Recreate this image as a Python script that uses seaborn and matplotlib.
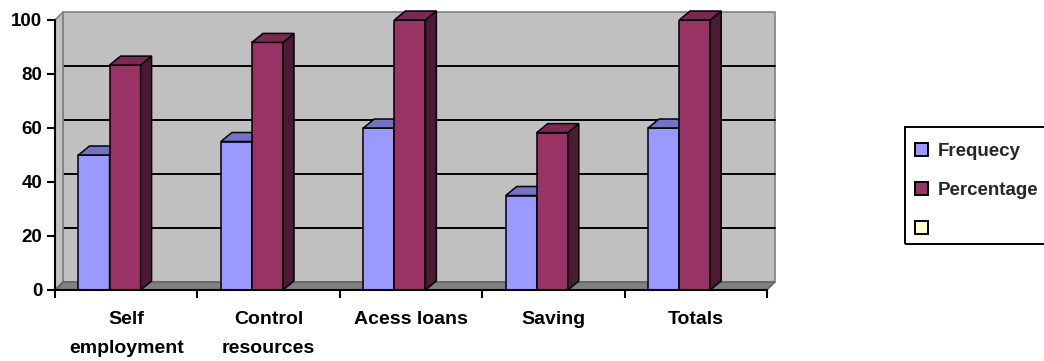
import numpy as np
import pandas as pd
import matplotlib
matplotlib.use("Agg")
import matplotlib.pyplot as plt
from matplotlib.patches import Polygon, Rectangle, Patch
from matplotlib.transforms import ScaledTranslation
import seaborn as sns

# ---- data -------------------------------------------------------------
categories = ["Self\nemployment", "Control\nresources", "Acess loans", "Saving", "Totals"]
frequency = [50, 55, 60, 35, 60]
percentage = [83.3, 91.7, 100, 58.3, 100]
series_names = ["Frequecy", "Percentage"]
y_ticks = [0, 20, 40, 60, 80, 100]

# ---- styling ----------------------------------------------------------
FRONT = {"Frequecy": "#9999FF", "Percentage": "#993366"}
TOP = {"Frequecy": "#7373C6", "Percentage": "#7A2952"}
SIDE = {"Frequecy": "#5C5CA3", "Percentage": "#4D1A35"}
BLANK = "#FFFFCC"

sns.set_theme(style="white")
plt.rcParams["font.family"] = ["Liberation Sans", "DejaVu Sans"]
plt.rcParams["font.weight"] = "bold"

DPI = 100
W, H = 1044, 361
fig = plt.figure(figsize=(W / DPI, H / DPI), dpi=DPI)
fig.patch.set_facecolor("white")
ax = fig.add_axes([55 / W, (H - 290) / H, (767 - 55) / W, (290 - 20) / H])
ax.set_facecolor("none")

df = pd.DataFrame({
    "category": categories * 2,
    "series": [series_names[0]] * len(categories) + [series_names[1]] * len(categories),
    "value": frequency + percentage,
})

sns.barplot(data=df, x="category", y="value", hue="series", order=categories,
            hue_order=series_names, palette=FRONT, width=0.436, saturation=1,
            edgecolor="black", linewidth=1.1, legend=False, ax=ax)

ax.set_xlim(-0.5, len(categories) - 0.5)
ax.set_ylim(0, 100)

# pixel depth of the walls and of the columns
WX, WY = 8, 8
BX, BY = 11, 9
wall_tr = ax.transData + ScaledTranslation(WX / DPI, WY / DPI, fig.dpi_scale_trans)
inv = ax.transData.inverted()


def disp(x, y):
    return np.array(ax.transData.transform((x, y)))


def add_face(pts, **kw):
    poly = Polygon(inv.transform(np.array(pts)), closed=True, transform=ax.transData,
                   clip_on=False, **kw)
    ax.add_patch(poly)


x0, x1 = ax.get_xlim()
# back wall with gridlines
ax.add_patch(Rectangle((x0, 0), x1 - x0, 100, transform=wall_tr, fc="#C0C0C0",
                       ec="#808080", lw=1.2, zorder=0.1, clip_on=False))
for yv in y_ticks[1:-1]:
    ax.plot([x0, x1], [yv, yv], transform=wall_tr, color="black", lw=1.4,
            zorder=0.2, clip_on=False)

# left wall and floor
d_wall = np.array([WX, WY])
fl, ftop, fr = disp(x0, 0), disp(x0, 100), disp(x1, 0)
add_face([fl, ftop, ftop + d_wall, fl + d_wall], fc="#C0C0C0", ec="#808080", lw=1.2, zorder=0.3)
add_face([fl, fr, fr + d_wall, fl + d_wall], fc="#808080", ec="#606060", lw=1.0, zorder=0.3)

# columns: front faces from seaborn, shifted left for depth, plus top and side faces
shift = -0.117
d_bar = np.array([BX, BY])
for z, (cont, name) in enumerate(zip(ax.containers, series_names)):
    zb = 3 + 2 * z
    for p in cont:
        p.set_x(p.get_x() + shift)
        p.set_zorder(zb)
        bx, bw, bh = p.get_x(), p.get_width(), p.get_height()
        bl, tl, tr, br = disp(bx, 0), disp(bx, bh), disp(bx + bw, bh), disp(bx + bw, 0)
        add_face([br, tr, tr + d_bar, br + d_bar], fc=SIDE[name], ec="black", lw=1.1, zorder=zb)
        add_face([tl, tr, tr + d_bar, tl + d_bar], fc=TOP[name], ec="black", lw=1.1, zorder=zb)

# axes lines and ticks
for s in ["top", "right"]:
    ax.spines[s].set_visible(False)
for s in ["left", "bottom"]:
    ax.spines[s].set_color("black")
    ax.spines[s].set_linewidth(1.5)
    ax.spines[s].set_zorder(10)

ax.set_yticks(y_ticks)
ax.set_yticklabels([str(v) for v in y_ticks])
ax.tick_params(axis="y", direction="out", length=6, width=1.5, color="black",
               labelsize=13.5, pad=3, left=True)
ax.set_xticks(range(len(categories)))
ax.set_xticklabels(categories)
ax.tick_params(axis="x", which="major", length=0, labelsize=14, pad=15)
ax.set_xticks(np.arange(x0, x1 + 0.01, 1.0), minor=True)
ax.tick_params(axis="x", which="minor", direction="out", length=6, width=1.5,
               color="black", bottom=True)
for t in ax.get_xticklabels() + ax.get_yticklabels():
    t.set_fontweight("bold")
    t.set_color("black")
for t in ax.get_xticklabels():
    t.set_linespacing(1.95)
ax.set_xlabel("")
ax.set_ylabel("")
ax.grid(False)

# legend: entries without frame, box drawn separately
handles = [Patch(fc=FRONT[series_names[0]], ec="black", lw=1.4),
           Patch(fc=FRONT[series_names[1]], ec="black", lw=1.4),
           Patch(fc=BLANK, ec="black", lw=1.4)]
leg = fig.legend(handles, series_names + [""], loc="upper left",
                 bbox_to_anchor=(915 / W, 1 - 143 / H), frameon=False,
                 borderpad=0, handlelength=0.67, handleheight=0.67,
                 handletextpad=0.55, labelspacing=1.17, borderaxespad=0,
                 prop={"size": 13.5, "weight": "bold"})
fig.add_artist(Rectangle((905 / W, 1 - 244 / H), (1060 - 905) / W, (244 - 127) / H,
                         transform=fig.transFigure, fc="none", ec="black", lw=1.4))

fig.savefig("out.png", dpi=DPI)
